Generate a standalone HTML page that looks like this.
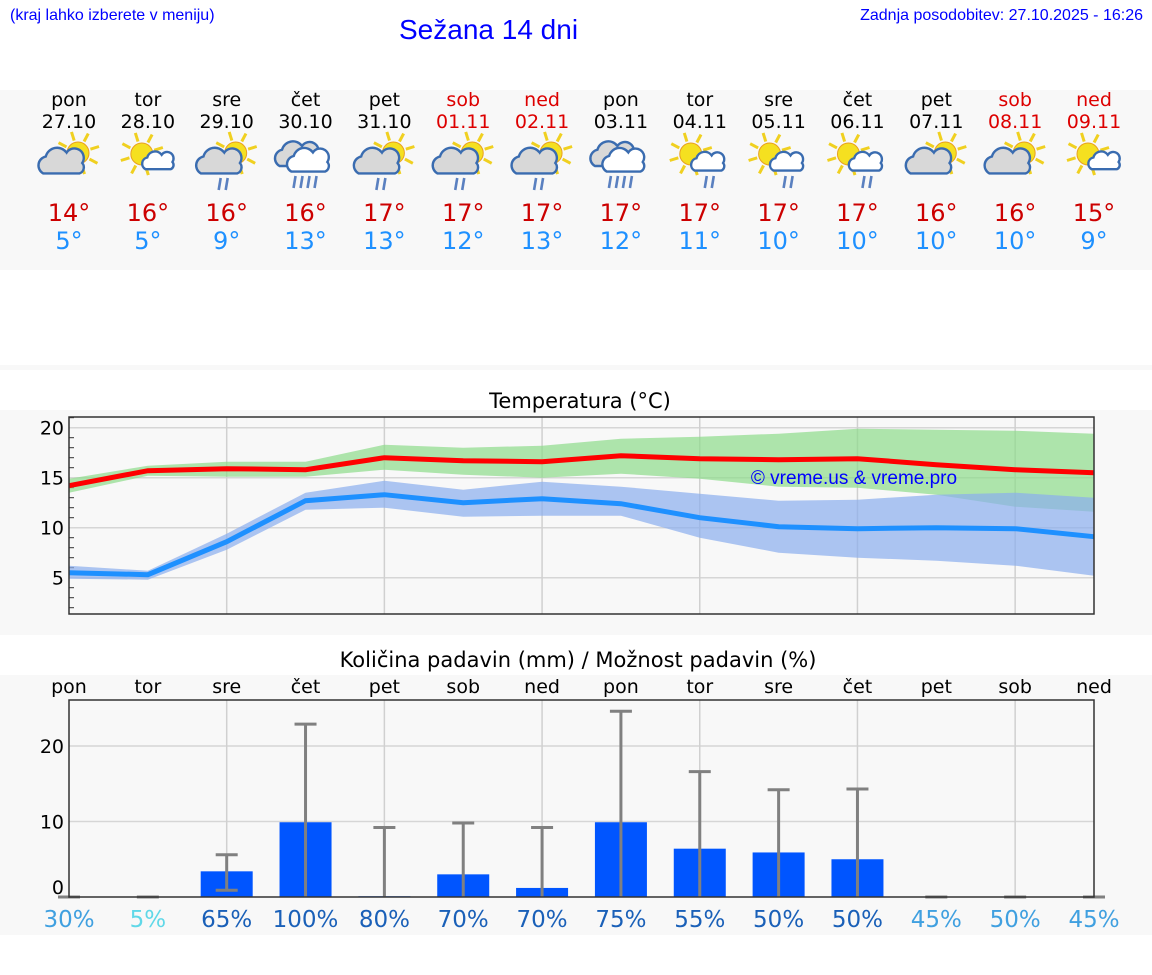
<!DOCTYPE html>
<html><head><meta charset="utf-8">
<style>
body{margin:0;width:1152px;height:975px;background:#fff;font-family:"DejaVu Sans","Liberation Sans",sans-serif;position:relative;overflow:hidden}
.abs{position:absolute}
.panel{position:absolute;left:0;width:1152px;background:#f8f8f8}
.day{position:absolute;width:80px;text-align:center;font-size:19px;line-height:22px}
</style></head><body>
<div class="abs" style="left:10px;top:7px;font-size:16px;color:#00f;font-family:'Liberation Sans',sans-serif">(kraj lahko izberete v meniju)</div>
<div class="abs" style="left:399px;top:14px;font-size:28px;color:#00f;font-family:'Liberation Sans',sans-serif">Sežana 14 dni</div>
<div class="abs" style="right:9px;top:7px;font-size:16px;color:#00f;font-family:'Liberation Sans',sans-serif">Zadnja posodobitev: 27.10.2025 - 16:26</div>
<div class="panel" style="top:90px;height:180px"></div>
<div class="panel" style="top:365px;height:5px"></div>
<div class="panel" style="top:410px;height:225px"></div>
<div class="panel" style="top:675px;height:260px"></div>
<div id="days"></div>
<svg id="chart" class="abs" style="left:0;top:0" width="1152" height="975"></svg>
<script>
const dayNames=["pon","tor","sre","čet","pet","sob","ned","pon","tor","sre","čet","pet","sob","ned"];
const dates=["27.10","28.10","29.10","30.10","31.10","01.11","02.11","03.11","04.11","05.11","06.11","07.11","08.11","09.11"];
const icons=["pc","sun","pcr","rain","pcr","pcr","pcr","rain","scr","scr","scr","pc","pc","sc"];
const hiLabels=[14,16,16,16,17,17,17,17,17,17,17,16,16,15];
const loLabels=[5,5,9,13,13,12,13,12,11,10,10,10,10,9];
const tMax=[14.2,15.7,15.9,15.8,17.0,16.7,16.6,17.2,16.9,16.8,16.9,16.3,15.8,15.5];
const tMaxHi=[14.9,16.2,16.6,16.6,18.3,18.0,18.2,18.9,19.1,19.4,19.9,19.8,19.7,19.4];
const tMaxLo=[13.5,15.2,15.1,15.1,15.8,15.3,15.0,15.4,14.9,14.1,14.0,13.3,12.1,11.6];
const tMin=[5.5,5.3,8.6,12.7,13.3,12.5,12.9,12.4,11.0,10.1,9.9,10.0,9.9,9.1];
const tMinHi=[6.2,5.7,9.4,13.5,14.7,13.8,14.6,14.1,13.4,12.7,12.8,13.3,13.5,13.0];
const tMinLo=[4.9,4.8,7.8,11.8,12.0,11.1,11.2,11.2,9.0,7.5,7.0,6.7,6.2,5.2];
const tTicks=[5,10,15,20];
const precip=[0,0,3.4,9.9,0.1,3.0,1.2,9.9,6.4,5.9,5.0,0,0,0];
const pLo=[0,0,0.9,0,0,0,0,0,0,0,0,0,0,0];
const pHi=[0,0,5.6,22.9,9.2,9.8,9.2,24.6,16.6,14.2,14.3,0,0,0];
const pTicks=[0,10,20];
const probs=[30,5,65,100,80,70,70,75,55,50,50,45,50,45];

const X=i=>69+i*(1025/13);
const TY=v=>627.7-v*10;
const PY=v=>897-v*7.55;
const svg=document.getElementById('chart');
const NS='http://www.w3.org/2000/svg';
function mk(t,a,p){const e=document.createElementNS(NS,t);for(const k in a)e.setAttribute(k,a[k]);(p||svg).appendChild(e);return e;}

const dd=document.getElementById('days');
dayNames.forEach((n,i)=>{
  const we=(i==5||i==6||i==12||i==13);
  const d=document.createElement('div');d.className='day';
  
  
  d.style.left=(X(i)-40)+'px';d.style.top='89px';
  d.innerHTML=`<div style="color:${we?'#d00':'#000'}">${n}</div><div style="color:${we?'#d00':'#000'}">${dates[i]}</div>`+
  `<div style="height:66px"></div><div style="font-size:24px;line-height:28px;color:#c00">${hiLabels[i]}°</div><div style="font-size:24px;line-height:28px;color:#1e90ff">${loLabels[i]}°</div>`;
  dd.appendChild(d);
});
function sun(g,cx,cy,r){for(let k=0;k<8;k++){const a=k*Math.PI/4-0.3;mk('line',{x1:cx+Math.cos(a)*(r+2),y1:cy+Math.sin(a)*(r+2),x2:cx+Math.cos(a)*(r+11),y2:cy+Math.sin(a)*(r+11),stroke:'#f0d020','stroke-width':3},g);}mk('circle',{cx,cy,r,fill:'#f5e020',stroke:'#e8a020','stroke-width':1},g);}
function cloud(g,cx,cy,s,fill){const p=`M${cx-16*s},${cy+8*s} a${7*s},${7*s} 0 0 1 ${2*s},${-13*s} a${9*s},${9*s} 0 0 1 ${16*s},${-3*s} a${7*s},${7*s} 0 0 1 ${12*s},${8*s} a${5*s},${5*s} 0 0 1 ${-2*s},${8*s} z`;mk('path',{d:p,fill:fill,stroke:'#3a6cb0','stroke-width':2.4},g);}
function rain(g,cx,cy,n){for(let k=0;k<n;k++)mk('line',{x1:cx+k*7+2,y1:cy,x2:cx+k*7,y2:cy+12,stroke:'#5a80c0','stroke-width':2.6},g);}
icons.forEach((t,i)=>{
  const g=mk('g',{});
  
  
  const cx=X(i),cy=158;
  if(t=='pc'||t=='pcr'){sun(g,cx+9,cy-5,11);cloud(g,cx-5,cy+5,1.3,'#d8d8d8');if(t=='pcr')rain(g,cx-8,cy+20,2);}
  if(t=='sun'||t=='sc'){sun(g,cx-6,cy-4,11);cloud(g,cx+12,cy+4,0.9,'#fff');}
  if(t=='scr'){sun(g,cx-9,cy-4,11);cloud(g,cx+10,cy+5,0.95,'#fff');rain(g,cx+5,cy+18,2);}
  if(t=='rain'){cloud(g,cx-6,cy-2,1.25,'#d8d8d8');cloud(g,cx+5,cy+4,1.2,'#fff');rain(g,cx-12,cy+18,4);}
});

mk('text',{x:580,y:408,'text-anchor':'middle','font-size':21,fill:'#000'}).textContent='Temperatura (°C)';
for(let v=2;v<=21;v++){mk('line',{x1:69,x2:74,y1:TY(v),y2:TY(v),stroke:'#333','stroke-width':1});}
tTicks.forEach(v=>{mk('line',{x1:69,x2:1094,y1:TY(v),y2:TY(v),stroke:'#d6d6d6','stroke-width':1.5});
 const t=mk('text',{x:64,y:TY(v)+7,'text-anchor':'end','font-size':19,fill:'#000'});t.textContent=v;});
for(let i=2;i<13;i+=2)mk('line',{x1:X(i),x2:X(i),y1:417,y2:614,stroke:'#d0d0d0','stroke-width':1.5});
function band(hi,lo,fill,name){let d='';hi.forEach((v,i)=>d+=(i?'L':'M')+X(i)+','+TY(v));for(let i=lo.length-1;i>=0;i--)d+='L'+X(i)+','+TY(lo[i]);const p=mk('path',{d:d+'Z',fill:fill,'fill-opacity':0.7});}
function line(a,c,name){const p=mk('polyline',{points:a.map((v,i)=>X(i)+','+TY(v)).join(' '),fill:'none',stroke:c,'stroke-width':5});}
band(tMaxHi,tMaxLo,'#8ddc8a','max-temp-band');
band(tMinHi,tMinLo,'#8aaeee','min-temp-band');
line(tMax,'#ff0000','max-temp-line');
line(tMin,'#1e90ff','min-temp-line');
mk('rect',{x:69,y:417,width:1025,height:197,fill:'none',stroke:'#333','stroke-width':1.5});
mk('text',{x:854,y:484,'text-anchor':'middle','font-size':19,fill:'#00f','font-family':'Liberation Sans'}).textContent='© vreme.us & vreme.pro';

mk('text',{x:578,y:667,'text-anchor':'middle','font-size':21,fill:'#000'}).textContent='Količina padavin (mm) / Možnost padavin (%)';
dayNames.forEach((n,i)=>{mk('text',{x:X(i),y:693,'text-anchor':'middle','font-size':19,fill:'#000'}).textContent=n;});
pTicks.forEach(v=>{if(v>0)mk('line',{x1:69,x2:1094,y1:PY(v),y2:PY(v),stroke:'#d6d6d6','stroke-width':1.5});
 mk('text',{x:64,y:PY(v)+(v?7:-3),'text-anchor':'end','font-size':19,fill:'#000'}).textContent=v;});
for(let i=2;i<13;i+=2)mk('line',{x1:X(i),x2:X(i),y1:700,y2:897,stroke:'#d0d0d0','stroke-width':1.5});
precip.forEach((v,i)=>{const x0=Math.max(69,X(i)-26),x1=Math.min(1094,X(i)+26);
 const r=mk('rect',{x:x0,y:PY(v),width:x1-x0,height:PY(0)-PY(v),fill:'#0055ff'});
 });
pHi.forEach((v,i)=>{const g=mk('g',{stroke:'#808080','stroke-width':3});
 
 mk('line',{x1:X(i),x2:X(i),y1:PY(pLo[i]),y2:PY(v)},g);
 mk('line',{x1:X(i)-11,x2:X(i)+11,y1:PY(v),y2:PY(v)},g);
 if(pLo[i]>0)mk('line',{x1:X(i)-11,x2:X(i)+11,y1:PY(pLo[i]),y2:PY(pLo[i])},g);});
mk('rect',{x:69,y:700,width:1025,height:197,fill:'none',stroke:'#333','stroke-width':1.5});
probs.forEach((p,i)=>{const c=p<=5?'#60d8e8':(p<50||i>=11)?'#40a0e0':'#1a60b8';
 const t=mk('text',{x:X(i),y:927,'text-anchor':'middle','font-size':23,fill:c});t.textContent=p+'%';
 });
</script>
</body></html>
